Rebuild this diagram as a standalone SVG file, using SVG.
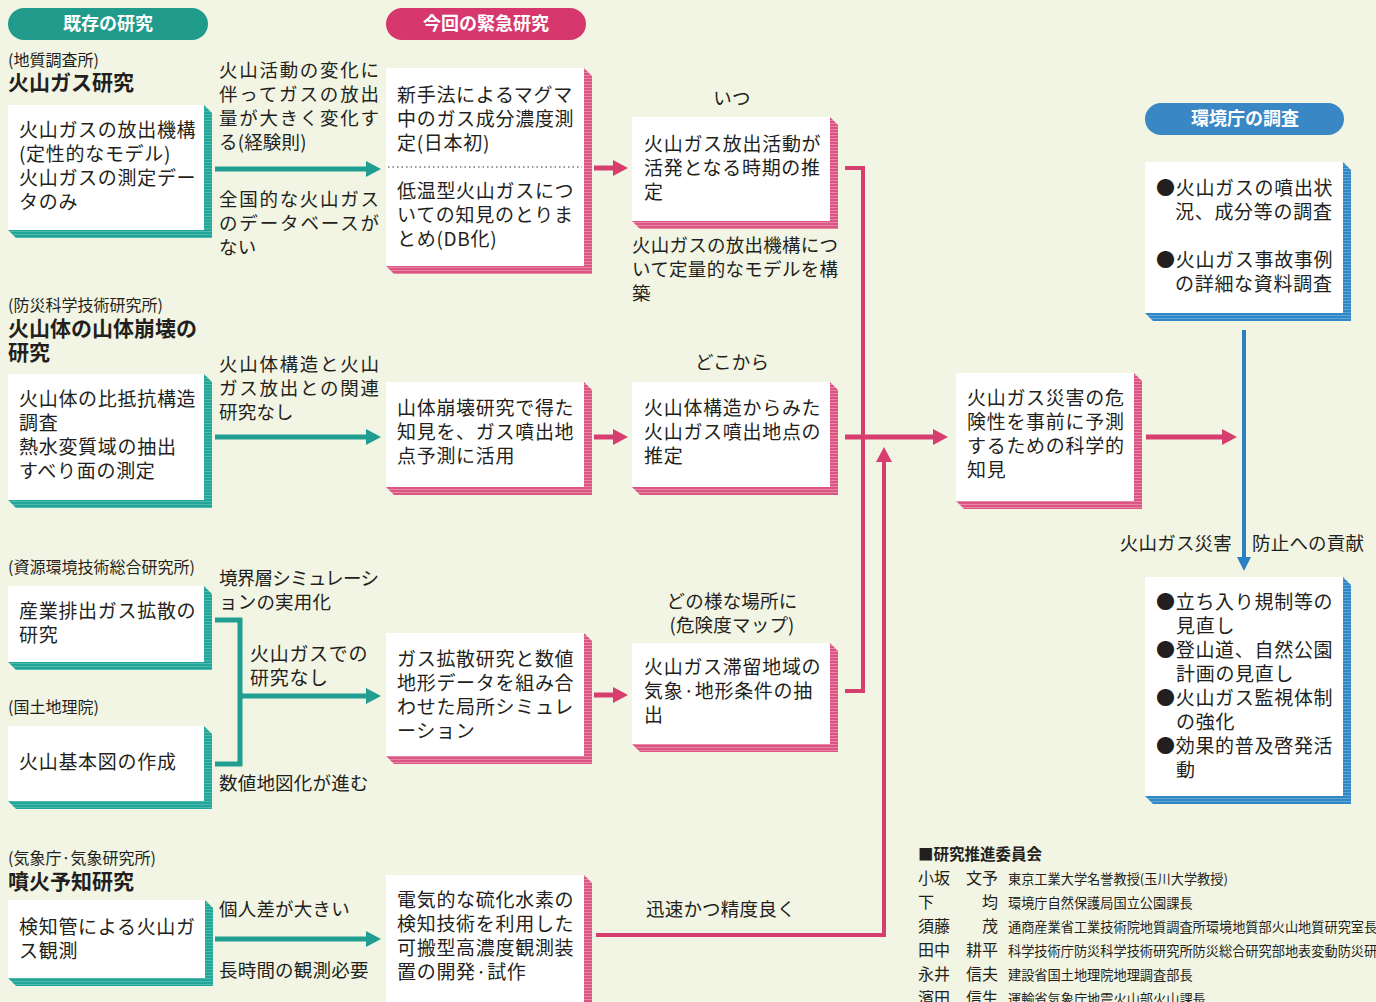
<svg xmlns="http://www.w3.org/2000/svg" width="1376" height="1002" viewBox="0 0 1376 1002">
<style>
text{font-family:"Noto Sans CJK JP","Noto Sans",sans-serif;fill:#231f20}
.t{font-size:19px;letter-spacing:0.7px}
.l{font-size:18.5px;letter-spacing:0.2px}
.j{font-size:18.5px}
.h{font-size:21px;font-weight:700}
.s{font-size:16px}
.pill{font-size:18px;font-weight:700;fill:#fff}
.w{fill:#fff}
.sh-t{fill:url(#ht)}
.sh-p{fill:url(#hp)}
.sh-b{fill:url(#hb)}
.lt{stroke:#1f9e91;stroke-width:5;fill:none}
.lp{stroke:#d63e70;stroke-width:5;fill:none}
.lp4{stroke:#d63e70;stroke-width:4;fill:none}
.lb{stroke:#2a80c2;stroke-width:4;fill:none}
.cn{font-size:16px}
.co{font-size:13.2px}
</style>
<defs>
<pattern id="ht" width="4" height="3" patternUnits="userSpaceOnUse"><rect width="4" height="3" fill="#22a69a"/><rect width="4" height="1" fill="#4dbab0"/></pattern>
<pattern id="hp" width="4" height="3" patternUnits="userSpaceOnUse"><rect width="4" height="3" fill="#dc5582"/><rect width="4" height="1" fill="#e987a7"/></pattern>
<pattern id="hb" width="4" height="3" patternUnits="userSpaceOnUse"><rect width="4" height="3" fill="#2f87c6"/><rect width="4" height="1" fill="#62a6d8"/></pattern>
<marker id="mt" markerUnits="userSpaceOnUse" markerWidth="16" markerHeight="18" refX="10" refY="9" orient="auto"><path d="M0,1 L15,9 L0,17 z" fill="#1f9e91"/></marker>
<marker id="mp" markerUnits="userSpaceOnUse" markerWidth="16" markerHeight="18" refX="10" refY="9" orient="auto"><path d="M0,1 L15,9 L0,17 z" fill="#d63e70"/></marker>
<marker id="mb" markerUnits="userSpaceOnUse" markerWidth="16" markerHeight="18" refX="10" refY="9" orient="auto"><path d="M0,2 L14,9 L0,16 z" fill="#2a80c2"/></marker>
</defs>
<rect width="1376" height="1002" fill="#f2f5e3"/>

<!-- headers -->
<g id="hdr-existing"><rect x="8" y="8" width="200" height="32" rx="16" fill="#1f9a8b"/><text class="pill" x="108" y="30" text-anchor="middle">既存の研究</text></g>
<g id="hdr-urgent"><rect x="386" y="8" width="200" height="32" rx="16" fill="#d6386d"/><text class="pill" x="486" y="30" text-anchor="middle">今回の緊急研究</text></g>
<g id="hdr-env"><rect x="1145" y="103" width="199" height="32" rx="16" fill="#3a87c5"/><text class="pill" x="1245" y="125" text-anchor="middle">環境庁の調査</text></g>

<!-- left column -->
<g id="n-gsj">
<text class="s" x="8" y="66">(地質調査所)</text>
<text class="h" x="8" y="90">火山ガス研究</text>
<polygon class="sh-t" points="204,105 212,113 212,238 16,238 8,230"/>
<rect class="w" x="8" y="105" width="196" height="125"/>
<text class="t" x="19" y="137">火山ガスの放出機構</text>
<text class="t" x="19" y="161">(定性的なモデル)</text>
<text class="t" x="19" y="185">火山ガスの測定デー</text>
<text class="t" x="19" y="209">タのみ</text>
</g>
<g id="n-nied">
<text class="s" x="8" y="311">(防災科学技術研究所)</text>
<text class="h" x="8" y="336">火山体の山体崩壊の</text>
<text class="h" x="8" y="360">研究</text>
<polygon class="sh-t" points="204,374 212,382 212,508 16,508 8,500"/>
<rect class="w" x="8" y="374" width="196" height="126"/>
<text class="t" x="19" y="406">火山体の比抵抗構造</text>
<text class="t" x="19" y="430">調査</text>
<text class="t" x="19" y="454">熱水変質域の抽出</text>
<text class="t" x="19" y="478">すべり面の測定</text>
</g>
<g id="n-nire">
<text class="s" x="8" y="573">(資源環境技術総合研究所)</text>
<polygon class="sh-t" points="204,586 212,594 212,670 16,670 8,662"/>
<rect class="w" x="8" y="586" width="196" height="76"/>
<text class="t" x="19" y="618">産業排出ガス拡散の</text>
<text class="t" x="19" y="642">研究</text>
</g>
<g id="n-gsi">
<text class="s" x="8" y="713">(国土地理院)</text>
<polygon class="sh-t" points="204,726 212,734 212,809 16,809 8,801"/>
<rect class="w" x="8" y="726" width="196" height="75"/>
<text class="t" x="19" y="769">火山基本図の作成</text>
</g>
<g id="n-jma">
<text class="s" x="8" y="864">(気象庁·気象研究所)</text>
<text class="h" x="8" y="889">噴火予知研究</text>
<polygon class="sh-t" points="205,900 213,908 213,986 16,986 8,978"/>
<rect class="w" x="8" y="900" width="197" height="78"/>
<text class="t" x="19" y="934">検知管による火山ガ</text>
<text class="t" x="19" y="958">ス観測</text>
</g>

<!-- middle column -->
<g id="n-a">
<polygon class="sh-p" points="584,68 592,76 592,274 394,274 386,266"/>
<rect class="w" x="386" y="68" width="198" height="198"/>
<line x1="388" y1="167" x2="582" y2="167" stroke="#777" stroke-width="1.3" stroke-dasharray="1.5 3"/>
<text class="t" x="397" y="102">新手法によるマグマ</text>
<text class="t" x="397" y="126">中のガス成分濃度測</text>
<text class="t" x="397" y="150">定(日本初)</text>
<text class="t" x="397" y="198">低温型火山ガスにつ</text>
<text class="t" x="397" y="222">いての知見のとりま</text>
<text class="t" x="397" y="246">とめ(DB化)</text>
</g>
<g id="n-b">
<polygon class="sh-p" points="584,382 592,390 592,495 394,495 386,487"/>
<rect class="w" x="386" y="382" width="198" height="105"/>
<text class="t" x="397" y="415">山体崩壊研究で得た</text>
<text class="t" x="397" y="439">知見を、ガス噴出地</text>
<text class="t" x="397" y="463">点予測に活用</text>
</g>
<g id="n-c">
<polygon class="sh-p" points="584,633 592,641 592,764 394,764 386,756"/>
<rect class="w" x="386" y="633" width="198" height="123"/>
<text class="t" x="397" y="666">ガス拡散研究と数値</text>
<text class="t" x="397" y="690">地形データを組み合</text>
<text class="t" x="397" y="714">わせた局所シミュレ</text>
<text class="t" x="397" y="738">ーション</text>
</g>
<g id="n-d">
<polygon class="sh-p" points="584,875 592,883 592,1010 394,1010 386,1002"/>
<rect class="w" x="386" y="875" width="198" height="130"/>
<text class="t" x="397" y="907">電気的な硫化水素の</text>
<text class="t" x="397" y="931">検知技術を利用した</text>
<text class="t" x="397" y="955">可搬型高濃度観測装</text>
<text class="t" x="397" y="979">置の開発·試作</text>
</g>

<!-- right column -->
<g id="n-e">
<text class="l" x="732" y="105" text-anchor="middle">いつ</text>
<polygon class="sh-p" points="830,117 838,125 838,229 640,229 632,221"/>
<rect class="w" x="632" y="117" width="198" height="104"/>
<text class="t" x="644" y="151">火山ガス放出活動が</text>
<text class="t" x="644" y="175">活発となる時期の推</text>
<text class="t" x="644" y="199">定</text>
</g>
<g id="lbl-e">
<text class="j" x="632" y="252" textLength="206" lengthAdjust="spacing">火山ガスの放出機構につ</text>
<text class="j" x="632" y="276" textLength="206" lengthAdjust="spacing">いて定量的なモデルを構</text>
<text class="j" x="632" y="300">築</text>
</g>
<g id="n-f">
<text class="l" x="732" y="369" text-anchor="middle">どこから</text>
<polygon class="sh-p" points="830,382 838,390 838,495 640,495 632,487"/>
<rect class="w" x="632" y="382" width="198" height="105"/>
<text class="t" x="644" y="415">火山体構造からみた</text>
<text class="t" x="644" y="439">火山ガス噴出地点の</text>
<text class="t" x="644" y="463">推定</text>
</g>
<g id="n-g">
<text class="l" x="732" y="608" text-anchor="middle">どの様な場所に</text>
<text class="l" x="732" y="632" text-anchor="middle">(危険度マップ)</text>
<polygon class="sh-p" points="830,643 838,651 838,752 640,752 632,744"/>
<rect class="w" x="632" y="643" width="198" height="101"/>
<text class="t" x="644" y="674">火山ガス滞留地域の</text>
<text class="t" x="644" y="698">気象·地形条件の抽</text>
<text class="t" x="644" y="722">出</text>
</g>
<g id="n-h">
<polygon class="sh-p" points="1134,373 1142,381 1142,509 964,509 956,501"/>
<rect class="w" x="956" y="373" width="178" height="128"/>
<text class="t" x="967" y="405">火山ガス災害の危</text>
<text class="t" x="967" y="429">険性を事前に予測</text>
<text class="t" x="967" y="453">するための科学的</text>
<text class="t" x="967" y="477">知見</text>
</g>
<g id="n-i">
<polygon class="sh-b" points="1343,162 1351,170 1351,321 1153,321 1145,313"/>
<rect class="w" x="1145" y="162" width="198" height="151"/>
<text class="t" x="1156" y="195">●火山ガスの噴出状</text>
<text class="t" x="1175" y="219">況、成分等の調査</text>
<text class="t" x="1156" y="267">●火山ガス事故事例</text>
<text class="t" x="1175" y="291">の詳細な資料調査</text>
</g>
<g id="n-j">
<polygon class="sh-b" points="1343,577 1351,585 1351,804 1153,804 1145,796"/>
<rect class="w" x="1145" y="577" width="198" height="219"/>
<text class="t" x="1156" y="609">●立ち入り規制等の</text>
<text class="t" x="1176" y="633">見直し</text>
<text class="t" x="1156" y="657">●登山道、自然公園</text>
<text class="t" x="1176" y="681">計画の見直し</text>
<text class="t" x="1156" y="705">●火山ガス監視体制</text>
<text class="t" x="1176" y="729">の強化</text>
<text class="t" x="1156" y="753">●効果的普及啓発活</text>
<text class="t" x="1176" y="777">動</text>
</g>

<!-- connectors -->
<g id="connectors">
<line class="lt" x1="215" y1="169" x2="376" y2="169" marker-end="url(#mt)"/>
<line class="lt" x1="215" y1="437" x2="376" y2="437" marker-end="url(#mt)"/>
<path class="lt" d="M215,620 H240 V764 H215"/>
<line class="lt" x1="240" y1="696" x2="376" y2="696" marker-end="url(#mt)"/>
<line class="lt" x1="215" y1="939" x2="376" y2="939" marker-end="url(#mt)"/>
<line class="lp" x1="594" y1="168" x2="623" y2="168" marker-end="url(#mp)"/>
<line class="lp" x1="594" y1="437" x2="623" y2="437" marker-end="url(#mp)"/>
<line class="lp" x1="594" y1="695" x2="623" y2="695" marker-end="url(#mp)"/>
<path class="lp4" d="M845,168 H863 V691 H845"/>
<line class="lp" x1="845" y1="437" x2="943" y2="437" marker-end="url(#mp)"/>
<path class="lp4" d="M596,935 H884 V452" marker-end="url(#mp)"/>
<line class="lp" x1="1146" y1="437" x2="1232" y2="437" marker-end="url(#mp)"/>
<line class="lb" x1="1244" y1="330" x2="1244" y2="567" marker-end="url(#mb)"/>
</g>

<!-- edge labels -->
<g id="labels">
<text class="j" x="219" y="77" textLength="160" lengthAdjust="spacing">火山活動の変化に</text>
<text class="j" x="219" y="101" textLength="160" lengthAdjust="spacing">伴ってガスの放出</text>
<text class="j" x="219" y="125" textLength="160" lengthAdjust="spacing">量が大きく変化す</text>
<text class="l" x="219" y="149">る(経験則)</text>
<text class="j" x="219" y="206" textLength="160" lengthAdjust="spacing">全国的な火山ガス</text>
<text class="j" x="219" y="230" textLength="160" lengthAdjust="spacing">のデータベースが</text>
<text class="l" x="219" y="254">ない</text>
<text class="j" x="219" y="371" textLength="160" lengthAdjust="spacing">火山体構造と火山</text>
<text class="j" x="219" y="395" textLength="160" lengthAdjust="spacing">ガス放出との関連</text>
<text class="l" x="219" y="419">研究なし</text>
<text class="j" x="219" y="585" textLength="160" lengthAdjust="spacing">境界層シミュレーシ</text>
<text class="l" x="219" y="609">ョンの実用化</text>
<text class="t" x="250" y="661">火山ガスでの</text>
<text class="t" x="250" y="685">研究なし</text>
<text class="l" x="219" y="790">数値地図化が進む</text>
<text class="l" x="219" y="916">個人差が大きい</text>
<text class="l" x="219" y="977">長時間の観測必要</text>
<text class="l" x="646" y="916">迅速かつ精度良く</text>
<text class="l" x="1232" y="550" text-anchor="end">火山ガス災害</text>
<text class="l" x="1252" y="550">防止への貢献</text>
</g>

<!-- committee -->
<g id="committee">
<text x="918" y="860" style="font-size:15.5px;font-weight:700">■研究推進委員会</text>
<text class="cn" x="918" y="884">小坂</text><text class="cn" x="998" y="884" text-anchor="end">文予</text><text class="co" x="1008" y="884">東京工業大学名誉教授(玉川大学教授)</text>
<text class="cn" x="918" y="908">下</text><text class="cn" x="998" y="908" text-anchor="end">均</text><text class="co" x="1008" y="908">環境庁自然保護局国立公園課長</text>
<text class="cn" x="918" y="932">須藤</text><text class="cn" x="998" y="932" text-anchor="end">茂</text><text class="co" x="1008" y="932">通商産業省工業技術院地質調査所環境地質部火山地質研究室長</text>
<text class="cn" x="918" y="956">田中</text><text class="cn" x="998" y="956" text-anchor="end">耕平</text><text class="co" x="1008" y="956">科学技術庁防災科学技術研究所防災総合研究部地表変動防災研</text>
<text class="cn" x="918" y="980">永井</text><text class="cn" x="998" y="980" text-anchor="end">信夫</text><text class="co" x="1008" y="980">建設省国土地理院地理調査部長</text>
<text class="cn" x="918" y="1004">濱田</text><text class="cn" x="998" y="1004" text-anchor="end">信生</text><text class="co" x="1008" y="1004">運輸省気象庁地震火山部火山課長</text>
</g>
</svg>
